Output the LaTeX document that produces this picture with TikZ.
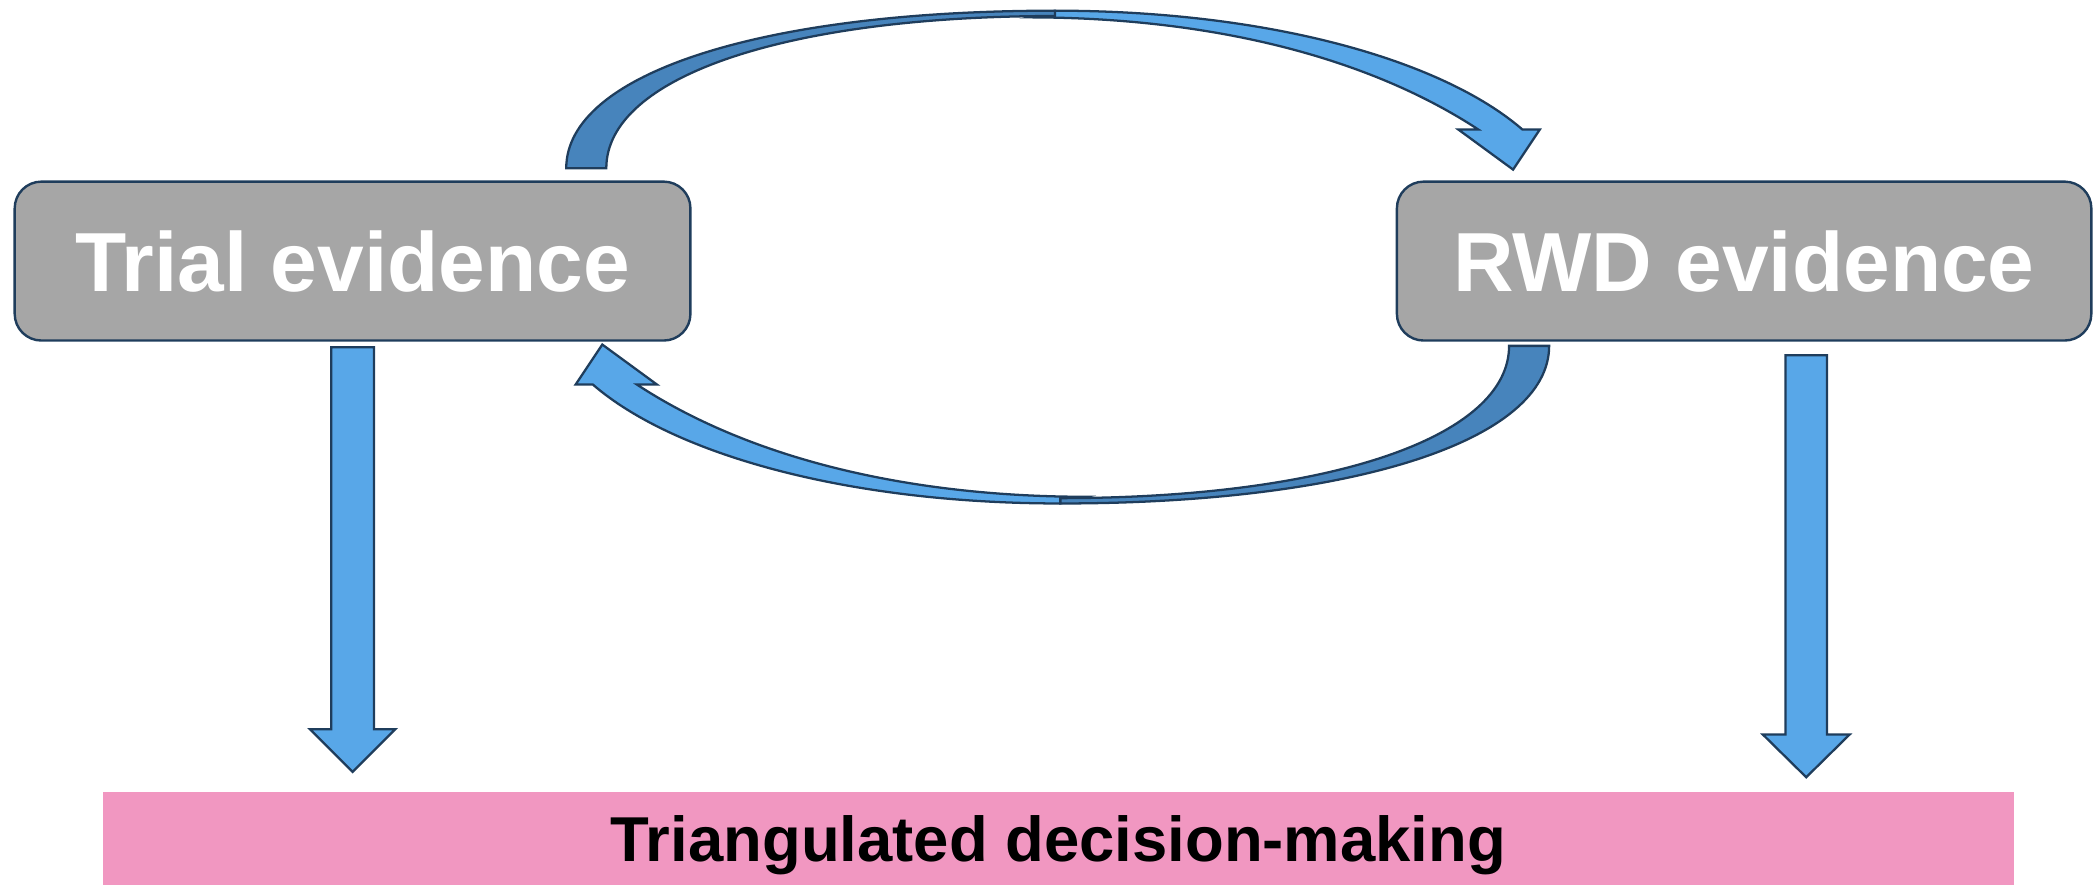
\documentclass[tikz,border=0pt]{standalone}
\usepackage{fontspec}
\setmainfont{Liberation Sans}
\definecolor{boxgray}{HTML}{A6A6A6}
\definecolor{edge}{HTML}{1F3D5C}
\definecolor{lightblue}{HTML}{58A7E8}
\definecolor{darkblue}{HTML}{4784BC}
\definecolor{pinkbar}{HTML}{F197C1}
% one curved block arrow (tail on the left, head on the right)
\newcommand{\drawcurvedarr}{%
  \draw[lightblk] (790,8) .. controls (950,8) and (1080,45) .. (1140,97)
    -- (1153,97) -- (1133,127) -- (1092,97) -- (1107,97)
    .. controls (1020,40) and (900,13) .. (770,13) -- cycle;
  \draw[darkblk] (424,126) .. controls (424,55.2) and (570.4,8) .. (790,8)
    -- (790,12) .. controls (588.4,12) and (454,57.6) .. (454,126) -- cycle;%
}
\begin{document}
\begin{tikzpicture}[x=1pt,y=-1pt,
  evbox/.style={draw=edge, line width=1.8pt, fill=boxgray, rounded corners=20pt,
    inner sep=0pt, text=white, font=\bfseries\fontsize{62.8}{70}\selectfont},
  blk/.style={draw=edge, line width=1.7pt, line join=miter},
  lightblk/.style={blk, fill=lightblue},
  darkblk/.style={blk, fill=darkblue},
  barbox/.style={fill=pinkbar, draw=none, inner sep=0pt},
  bartext/.style={text=black, font=\bfseries\fontsize{47.5}{52}\selectfont, inner sep=0pt}]
\useasboundingbox (0,0) rectangle (1568,663);

% evidence boxes
\node[evbox, minimum width=506pt, minimum height=119pt] (trial) at (264,195.5) {Trial evidence};
\node[evbox, minimum width=520pt, minimum height=119pt] (rwd) at (1306,195.5) {RWD evidence};

% bottom bar
\node[barbox, minimum width=1431pt, minimum height=70pt] (tdm) at (792.5,628) {};
\node[bartext, anchor=base] (tdmtext) at (792.5,645) {Triangulated decision-making};

% top curved arrow (trial -> RWD)
\drawcurvedarr
% bottom curved arrow (RWD -> trial): same shape turned half a turn
\begin{scope}[rotate around={180:(792,192.5)}]
  \drawcurvedarr
\end{scope}

% straight down arrows
\draw[lightblk] (248,260) -- (280,260) -- (280,546) -- (296,546) -- (264,578)
  -- (232,546) -- (248,546) -- cycle;
\draw[lightblk] (1337,266) -- (1368,266) -- (1368,550) -- (1385,550) -- (1352.5,582)
  -- (1320,550) -- (1337,550) -- cycle;
\end{tikzpicture}
\end{document}
